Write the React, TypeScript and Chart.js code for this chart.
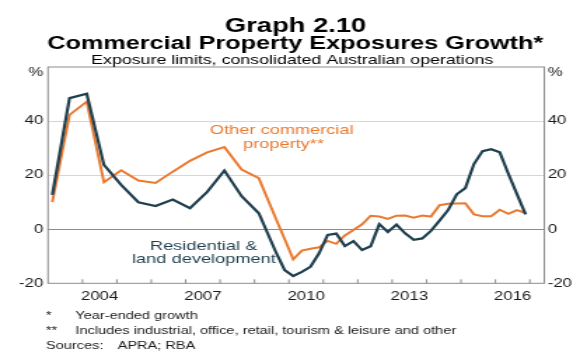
import React, { useEffect, useRef } from 'react';
import { Chart, registerables } from 'chart.js';

Chart.register(...registerables);

// ---- data ----
const quarters = [
  'Mar-2003', 'Sep-2003', 'Mar-2004', 'Sep-2004', 'Mar-2005', 'Sep-2005', 'Mar-2006',
  'Sep-2006', 'Mar-2007', 'Sep-2007', 'Mar-2008', 'Sep-2008', 'Mar-2009', 'Sep-2009',
  'Dec-2009', 'Mar-2010', 'Jun-2010', 'Sep-2010', 'Dec-2010', 'Mar-2011', 'Jun-2011',
  'Sep-2011', 'Dec-2011', 'Mar-2012', 'Jun-2012', 'Sep-2012', 'Dec-2012', 'Mar-2013',
  'Jun-2013', 'Sep-2013', 'Dec-2013', 'Mar-2014', 'Jun-2014', 'Sep-2014', 'Dec-2014',
  'Mar-2015', 'Jun-2015', 'Sep-2015', 'Dec-2015', 'Mar-2016', 'Jun-2016', 'Sep-2016',
  'Dec-2016',
];

const residentialLand = [
  12.7, 48.5, 50.1, 23.8, 16.4, 10.0, 8.6, 11.0, 7.8, 13.8, 21.7, 12.2, 5.9, -8.6,
  -15.1, -17.3, -15.8, -13.9, -8.9, -2.1, -1.6, -6.2, -4.4, -7.7, -6.3, 1.9, -1.0, 1.7,
  -1.5, -3.9, -3.4, -0.6, 3.2, 7.1, 12.9, 15.2, 24.1, 28.9, 29.6, 28.5, 20.5, 13.0, 5.5,
];

const otherCommercial = [
  10.0, 42.3, 47.2, 17.4, 21.8, 18.0, 17.1, 21.3, 25.3, 28.4, 30.4, 22.1, 18.9, 3.8,
  -3.6, -11.1, -7.9, -7.2, -6.7, -4.3, -5.4, -2.3, -0.3, 1.8, 5.0, 4.7, 3.8, 5.0,
  5.1, 4.3, 5.1, 4.7, 8.9, 9.4, 9.5, 9.6, 5.5, 4.8, 4.8, 7.2, 5.7, 7.1, 6.0,
];

const yTicks = [-20, 0, 20, 40, 60];
const xLabelYears = [2004, 2007, 2010, 2013, 2016];
const xTickYears = [2004, 2005, 2006, 2007, 2008, 2009, 2010, 2011, 2012, 2013, 2014, 2015, 2016, 2017];

const titleLines = ['Graph 2.10', 'Commercial Property Exposures Growth*'];
const subtitle = 'Exposure limits, consolidated Australian operations';
const seriesLabels = {
  other: ['Other commercial', 'property**'],
  residential: ['Residential &', 'land development'],
};
const footnotes = [
  ['*', 'Year-ended growth'],
  ['**', 'Includes industrial, office, retail, tourism & leisure and other'],
];
const sources = ['Sources:', 'APRA; RBA'];

// ---- styling ----
const FONT = "'Liberation Sans', Arial, Helvetica, sans-serif";
const DARK = '#1f3f4f';
const ORANGE = '#e97a30';
const TEXT = '#1a1a1a';
const BORDER = '#8c8c8c';
const W = 414;
const H = 352;
const STRETCH = 580 / W;

const monthIdx: Record<string, number> = { Mar: 1, Jun: 2, Sep: 3, Dec: 4 };
const toYear = (q: string) => {
  const [m, y] = q.split('-');
  return Number(y) + (monthIdx[m] - 0.5) / 4;
};

export default function App() {
  const ref = useRef<HTMLCanvasElement>(null);

  useEffect(() => {
    if (!ref.current) return;
    const xs = quarters.map(toYear);

    const decor = {
      id: 'decor',
      beforeDatasetsDraw(chart: any) {
        const { ctx, chartArea: a, scales } = chart;
        ctx.save();
        ctx.strokeStyle = BORDER;
        ctx.lineWidth = 1;
        ctx.strokeRect(a.left, a.top, a.right - a.left, a.bottom - a.top);
        for (const yr of xTickYears) {
          const px = scales.x.getPixelForValue(yr);
          ctx.beginPath();
          ctx.moveTo(px, a.bottom);
          ctx.lineTo(px, a.bottom - 4);
          ctx.stroke();
        }
        ctx.restore();
      },
      afterDraw(chart: any) {
        const { ctx, chartArea: a, scales } = chart;
        const sx = scales.x;
        const sy = scales.y;
        ctx.save();
        ctx.fillStyle = '#000';
        ctx.textAlign = 'center';
        ctx.textBaseline = 'alphabetic';
        ctx.font = `bold 19.5px ${FONT}`;
        ctx.fillText(titleLines[0], 211, 32);
        ctx.font = `bold 18px ${FONT}`;
        ctx.fillText(titleLines[1], 210.8, 48.5);
        ctx.font = `12.7px ${FONT}`;
        ctx.fillText(subtitle, 208.6, 64);

        // % unit labels
        ctx.fillStyle = TEXT;
        ctx.font = `12px ${FONT}`;
        ctx.textBaseline = 'middle';
        const pctY = sy.getPixelForValue(60) + 5.5;
        ctx.textAlign = 'right';
        ctx.fillText('%', a.left - 3.4, pctY);
        ctx.textAlign = 'left';
        ctx.fillText('%', a.right + 2.4, pctY);

        // series labels
        ctx.textAlign = 'center';
        ctx.font = `13px ${FONT}`;
        ctx.fillStyle = ORANGE;
        ctx.fillText(seriesLabels.other[0], sx.getPixelForValue(2009.79), sy.getPixelForValue(36.4));
        ctx.fillText(seriesLabels.other[1], sx.getPixelForValue(2009.84), sy.getPixelForValue(31.4));
        ctx.fillStyle = DARK;
        ctx.fillText(seriesLabels.residential[0], sx.getPixelForValue(2007.52), sy.getPixelForValue(-6.2));
        ctx.fillText(seriesLabels.residential[1], sx.getPixelForValue(2007.53), sy.getPixelForValue(-11.2));

        // footnotes
        ctx.fillStyle = TEXT;
        ctx.textAlign = 'left';
        ctx.font = `10.4px ${FONT}`;
        const fy = [316, 331, 346.5];
        footnotes.forEach((f, i) => {
          ctx.fillText(f[0], 32.8, fy[i]);
          ctx.fillText(f[1], 53.8, fy[i]);
        });
        ctx.fillText(sources[0], 32.8, fy[2]);
        ctx.fillText(sources[1], 84, fy[2]);
        ctx.restore();
      },
    };

    const chart = new Chart(ref.current, {
      type: 'line',
      data: {
        datasets: [
          {
            label: 'Residential & land development',
            data: xs.map((x, i) => ({ x, y: residentialLand[i] })),
            borderColor: DARK,
            borderWidth: 2.2,
            pointRadius: 0,
            tension: 0,
          },
          {
            label: 'Other commercial property',
            data: xs.map((x, i) => ({ x, y: otherCommercial[i] })),
            borderColor: ORANGE,
            borderWidth: 2,
            pointRadius: 0,
            tension: 0,
          },
        ],
      },
      options: {
        animation: false,
        responsive: false,
        devicePixelRatio: 1,
        layout: { padding: { top: 67, bottom: H - 283.3 - 20, left: 0, right: 0 } },
        plugins: { legend: { display: false }, tooltip: { enabled: false }, title: { display: false } },
        scales: {
          x: {
            type: 'linear',
            min: 2003,
            max: 2017.42,
            afterBuildTicks: (s: any) => {
              s.ticks = xLabelYears.map((v) => ({ value: v + 0.5 }));
            },
            afterFit: (s: any) => {
              s.height = 20;
            },
            ticks: {
              autoSkip: false,
              maxRotation: 0,
              padding: 6,
              color: TEXT,
              font: { family: FONT, size: 12 },
              callback: (v: any) => String(Math.floor(Number(v))),
            },
            grid: { display: false, drawTicks: false },
            border: { display: false },
          },
          y: {
            position: 'left',
            min: -20,
            max: 60,
            afterBuildTicks: (s: any) => {
              s.ticks = yTicks.map((v) => ({ value: v }));
            },
            afterFit: (s: any) => {
              s.width = 48 / STRETCH;
            },
            ticks: {
              padding: 3.4,
              color: TEXT,
              font: { family: FONT, size: 12 },
              callback: (v: any) => (Number(v) === 60 ? '' : String(v)),
            },
            grid: {
              drawTicks: false,
              lineWidth: 1,
              color: (c: any) => {
                const v = c.tick && c.tick.value;
                if (v === 0) return '#8c8c8c';
                if (v === 20 || v === 40) return '#d6d6d6';
                return 'rgba(0,0,0,0)';
              },
            },
            border: { display: false },
          },
          y2: {
            position: 'right',
            min: -20,
            max: 60,
            afterBuildTicks: (s: any) => {
              s.ticks = yTicks.map((v) => ({ value: v }));
            },
            afterFit: (s: any) => {
              s.width = W - 544.3 / STRETCH;
            },
            ticks: {
              padding: 2.4,
              color: TEXT,
              font: { family: FONT, size: 12 },
              callback: (v: any) => (Number(v) === 60 ? '' : String(v)),
            },
            grid: { display: false, drawTicks: false },
            border: { display: false },
          },
        },
      },
      plugins: [decor],
    } as any);

    return () => chart.destroy();
  }, []);

  return (
    <div style={{ position: 'fixed', left: 0, top: 0, width: 580, height: H, overflow: 'hidden', background: '#fff' }}>
      <div style={{ width: W, height: H, transform: `scaleX(${STRETCH})`, transformOrigin: '0 0' }}>
        <canvas ref={ref} width={W} height={H} style={{ width: W, height: H, display: 'block' }} />
      </div>
    </div>
  );
}
